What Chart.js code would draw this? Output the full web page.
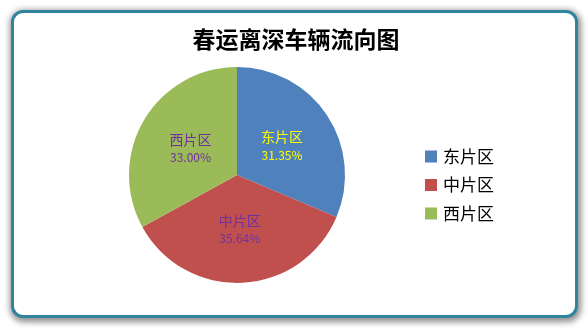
<!DOCTYPE html>
<html>
<head>
<meta charset="utf-8">
<script src="https://cdn.jsdelivr.net/npm/chart.js@4"></script>
<style>
  html, body { margin: 0; padding: 0; background: #ffffff; }
  body { width: 588px; height: 330px; position: relative; overflow: hidden; }
  #frame {
    position: absolute; left: 11px; top: 10px; width: 561px; height: 302px;
    border: 3px solid #31849b; border-radius: 12px; background: #ffffff;
    box-shadow: 1px 2px 6px 2px rgba(0,0,0,0.45);
  }
  #wrap { position: absolute; left: 0; top: 0; width: 588px; height: 330px; }
</style>
</head>
<body>
<div id="frame"></div>
<div id="wrap"><canvas id="c" width="588" height="330"></canvas></div>
<script>
const titleText = '春运离深车辆流向图';
const categories = ['东片区', '中片区', '西片区'];
const shares = [31.35, 35.64, 33.00];
const sliceColors = ['#4f81bd', '#c0504d', '#9bbb59'];
const labelColors = ['#ffff00', '#7030a0', '#7030a0'];

const cjk = '"Noto Sans CJK SC", "Noto Sans", sans-serif';

// Chart heading, centred across the whole frame
const heading = {
  id: 'heading',
  afterDraw(chart) {
    const ctx = chart.ctx;
    ctx.save();
    ctx.fillStyle = '#000000';
    ctx.font = 'bold 23px ' + cjk;
    ctx.textAlign = 'center';
    ctx.textBaseline = 'middle';
    ctx.fillText(titleText, chart.width / 2 + 2, 39);
    ctx.restore();
  }
};

// Writes the district name and its share inside each slice
const sliceLabels = {
  id: 'sliceLabels',
  afterDatasetsDraw(chart) {
    const ctx = chart.ctx;
    const meta = chart.getDatasetMeta(0);
    meta.data.forEach((arc, i) => {
      const p = arc.tooltipPosition();
      ctx.save();
      ctx.fillStyle = labelColors[i];
      ctx.textAlign = 'center';
      ctx.textBaseline = 'middle';
      ctx.font = '14px ' + cjk;
      ctx.fillText(categories[i], p.x, p.y - 8);
      ctx.font = '12px ' + cjk;
      ctx.fillText(shares[i].toFixed(2) + '%', p.x, p.y + 10);
      ctx.restore();
    });
  }
};

// Legend column to the right of the pie, built from the chart's own legend items
const sideLegend = {
  id: 'sideLegend',
  afterDraw(chart) {
    const ctx = chart.ctx;
    const items = chart.options.plugins.legend.labels.generateLabels(chart);
    const area = chart.chartArea;
    const rowGap = 28.5;
    const midY = (area.top + area.bottom) / 2 + 10;
    const y0 = midY - rowGap * (items.length - 1) / 2;
    const boxX = area.right + 80;
    ctx.save();
    items.forEach((it, i) => {
      const y = y0 + i * rowGap;
      ctx.fillStyle = it.fillStyle;
      ctx.fillRect(boxX, y - 6, 12, 12);
      ctx.fillStyle = '#000000';
      ctx.font = '17px ' + cjk;
      ctx.textAlign = 'left';
      ctx.textBaseline = 'middle';
      ctx.fillText(it.text, boxX + 18, y);
    });
    ctx.restore();
  }
};

new Chart(document.getElementById('c'), {
  type: 'pie',
  data: {
    labels: categories,
    datasets: [{
      data: shares,
      backgroundColor: sliceColors,
      borderWidth: 0
    }]
  },
  options: {
    responsive: false,
    animation: false,
    layout: { padding: { left: 129, right: 243, top: 67, bottom: 47 } },
    plugins: {
      title: { display: false },
      legend: { display: false },
      tooltip: { enabled: false }
    }
  },
  plugins: [sliceLabels, sideLegend, heading]
});
</script>
</body>
</html>
